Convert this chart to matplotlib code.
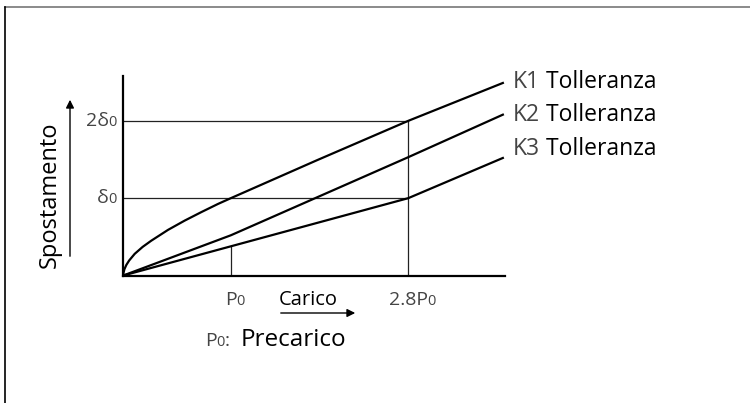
import numpy as np
import matplotlib
matplotlib.use("Agg")
import matplotlib.pyplot as plt
from matplotlib.lines import Line2D
from matplotlib.offsetbox import TextArea, HPacker, AnnotationBbox

plt.rcParams['font.family'] = ['Open Sans', 'DejaVu Sans']

# dati (x in unita di P0 come disegnato, y in unita di delta0)
carico_tick = [1.0, 2.65]
carico_lab = [('P', '0'), ('2.8P', '0')]
spost_tick = [1.0, 2.0]
spost_lab = [('δ', '0'), ('2δ', '0')]

k1_x = [0, 0.002, 0.01, 0.028, 0.055, 0.106, 0.18, 0.26, 0.416, 0.571, 0.726, 0.88, 1.0, 1.8, 2.65, 3.53]
k1_y = [0, 0.035, 0.08, 0.136, 0.195, 0.28, 0.37, 0.45, 0.59, 0.71, 0.82, 0.925, 1.0, 1.49, 2.0, 2.49]
k2_x = [0, 1.0, 2.65, 3.53]
k2_y = [0, 0.52, 1.53, 2.08]
k3_x = [0, 2.65, 3.53]
k3_y = [0, 1.0, 1.52]

serie = [('K1', k1_x, k1_y), ('K2', k2_x, k2_y), ('K3', k3_x, k3_y)]
label_y = [2.507, 2.076, 1.64]

fig = plt.figure(figsize=(7.5, 4.03), dpi=100)
ax = fig.add_axes([123.3/750, (403-275.5)/403, (505-123.3)/750, (275.5-76)/403])
ax.set_xlim(0, 3.55)
ax.set_ylim(0, 2.58)
for s in ['top', 'right']:
    ax.spines[s].set_visible(False)
for s in ['left', 'bottom']:
    ax.spines[s].set_linewidth(1.6)
ax.set_xticks([])
ax.set_yticks([])

def pack(parti, ax_, xy, xycoords, box_al, off=(0, 0)):
    kids = [TextArea(t, textprops=p) for t, p in parti]
    hp = HPacker(children=kids, align='baseline', pad=0, sep=0)
    ab = AnnotationBbox(hp, xy, xycoords=xycoords, xybox=off, boxcoords='offset points',
                        frameon=False, box_alignment=box_al, pad=0, annotation_clip=False)
    ax_.add_artist(ab)

light = dict(fontsize=14, color='#444444')
small = dict(fontsize=10.5, color='#444444')

# linee di riferimento
k1_at = np.interp(carico_tick[1], k1_x, k1_y)
for yv in spost_tick:
    ax.plot([0, carico_tick[1]], [yv, yv], color='#222222', lw=0.9)
ax.plot([carico_tick[0]]*2, [0, np.interp(carico_tick[0], k3_x, k3_y)], color='#222222', lw=0.9)
ax.plot([carico_tick[1]]*2, [0, k1_at], color='#222222', lw=0.9)

# curve
for nome, xs, ys in serie:
    ax.plot(xs, ys, color='black', lw=1.6, solid_joinstyle='round')
for (nome, xs, ys), ly in zip(serie, label_y):
    pack([(nome, dict(fontsize=16.5, color='#444444')),
          (' Tolleranza', dict(fontsize=16.5, color='black'))],
         ax, (3.62, ly), 'data', (0, 0.5))

# etichette assi
for xv, (a, b) in zip(carico_tick, carico_lab):
    pack([(a, light), (b, small)], ax, (xv, 0), ax.get_xaxis_transform(), (0.5, 0.5), off=(3, -17.6))
for yv, (a, b) in zip(spost_tick, spost_lab):
    pack([(a, light), (b, small)], ax, (0, yv), ax.get_yaxis_transform(), (1, 0.5), off=(-4.5, 0))

fig.text(50/750, 1-195/403, 'Spostamento', rotation=90, ha='center', va='center', fontsize=17)
ax.annotate('', xy=(70, 403-97), xytext=(70, 403-259), xycoords='figure pixels',
            arrowprops=dict(arrowstyle='-|>', lw=1, color='black', mutation_scale=12))
fig.text(308/750, 1-300/403, 'Carico', ha='center', va='center', fontsize=14.5)
ax.annotate('', xy=(358, 403-313), xytext=(278, 403-313), xycoords='figure pixels',
            arrowprops=dict(arrowstyle='-|>', lw=1, color='black', mutation_scale=12))

pack([('P', light), ('0', small), (':  ', light), ('Precarico', dict(fontsize=17.5, color='black'))],
     ax, (205/750, 1-340/403), 'figure fraction', (0, 0.5))

# cornice
fig.add_artist(Line2D([5/750, 1], [1-6.5/403]*2, transform=fig.transFigure, color='#777777', lw=1.2))
fig.add_artist(Line2D([5/750]*2, [0, 1-6.5/403], transform=fig.transFigure, color='black', lw=1.2))

fig.savefig('out.png', dpi=100)
